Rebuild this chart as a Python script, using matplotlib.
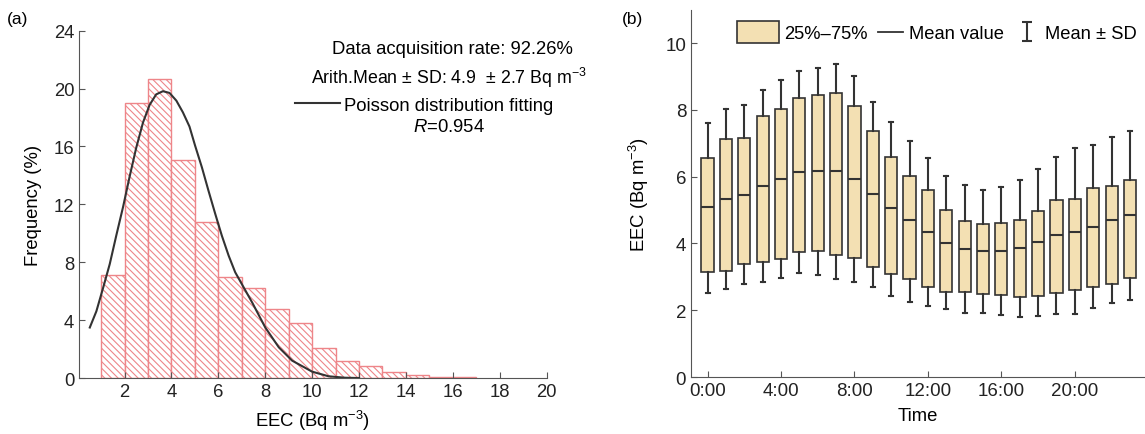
import matplotlib
matplotlib.use('Agg')
import matplotlib.pyplot as plt
import numpy as np
from matplotlib.patches import Rectangle, Patch
from matplotlib.lines import Line2D
from matplotlib.legend_handler import HandlerPatch

plt.rcParams.update({'font.family': 'Liberation Sans', 'mathtext.fontset': 'custom',
                     'mathtext.rm': 'Liberation Sans', 'mathtext.it': 'Liberation Sans:italic',
                     'mathtext.default': 'regular', 'hatch.linewidth': 0.8})

# (a) histogram of EEC, 1 Bq/m3 bins
bin_left = [1, 2, 3, 4, 5, 6, 7, 8, 9, 10, 11, 12, 13, 14, 15, 16]
freq = [7.1, 19.0, 20.65, 15.1, 10.8, 7.0, 6.2, 4.8, 3.8, 2.05, 1.2, 0.83, 0.42, 0.23, 0.1, 0.05]
# fitted curve
fit_x = [0.52, 0.8, 1.09, 1.37, 1.65, 1.94, 2.22, 2.5, 2.79, 3.07, 3.35, 3.64, 3.92, 4.21,
         4.49, 4.77, 5.01, 5.3, 5.58, 5.87, 6.15, 6.44, 6.72, 7.0, 7.45, 8.0, 8.58, 9.15,
         10.0, 10.7, 11.4, 12.0]
fit_y = [3.49, 4.61, 6.24, 7.87, 9.85, 11.83, 13.93, 15.91, 17.66, 18.87, 19.6, 19.82, 19.7,
         19.17, 18.36, 17.38, 16.06, 14.56, 12.95, 11.34, 9.84, 8.46, 7.31, 6.5, 5.2, 3.5,
         2.12, 1.2, 0.44, 0.12, 0.02, 0.0]

# (b) hourly EEC statistics
hours = list(range(24))
mean_val = [5.08, 5.32, 5.44, 5.72, 5.94, 6.14, 6.16, 6.16, 5.94, 5.47, 5.05, 4.69, 4.33, 4.02,
            3.84, 3.76, 3.78, 3.86, 4.04, 4.24, 4.35, 4.49, 4.69, 4.84]
q25 = [3.14, 3.17, 3.38, 3.44, 3.54, 3.74, 3.77, 3.65, 3.56, 3.29, 3.09, 2.94, 2.71, 2.56,
       2.56, 2.48, 2.45, 2.41, 2.43, 2.51, 2.61, 2.71, 2.79, 2.95]
q75 = [6.55, 7.12, 7.16, 7.82, 8.04, 8.34, 8.44, 8.51, 8.12, 7.38, 6.59, 6.02, 5.59, 5.0,
       4.67, 4.57, 4.61, 4.69, 4.96, 5.31, 5.33, 5.67, 5.71, 5.89]
sd_hi = [7.61, 8.02, 8.15, 8.58, 8.9, 9.16, 9.25, 9.38, 9.0, 8.24, 7.63, 7.08, 6.55, 6.02,
         5.76, 5.6, 5.7, 5.89, 6.24, 6.59, 6.87, 6.96, 7.18, 7.38]
sd_lo = [2.53, 2.65, 2.79, 2.84, 2.96, 3.12, 3.06, 2.92, 2.86, 2.69, 2.43, 2.26, 2.14, 2.04,
         1.92, 1.92, 1.86, 1.80, 1.82, 1.88, 1.88, 2.06, 2.22, 2.31]
time_ticks = [0, 4, 8, 12, 16, 20]
time_labels = ['0:00', '4:00', '8:00', '12:00', '16:00', '20:00']

fig = plt.figure(figsize=(11.45, 4.35), dpi=100)
ax1 = fig.add_axes([0.069, 0.1287, 0.4084, 0.7984])
ax2 = fig.add_axes([0.6035, 0.131, 0.3965, 0.8445])

red = '#EE8589'
dark = '#333333'
fs = 13.3

ax1.bar(bin_left, freq, width=1, align='edge', facecolor='white', edgecolor=red,
        hatch='\\\\\\\\\\', lw=1.0)
ax1.plot(fit_x, fit_y, color=dark, lw=1.5, label='Poisson distribution fitting')
ax1.set_xlim(0.06, 20)
ax1.set_ylim(0, 24)
ax1.set_xticks(range(2, 21, 2))
ax1.set_yticks(range(0, 25, 4))
ax1.set_xlabel('EEC (Bq m$^{-3}$)', fontsize=fs, labelpad=6)
ax1.set_ylabel('Frequency (%)', fontsize=fs, labelpad=8)
ax1.text(0.798, 0.95, 'Data acquisition rate: 92.26%', transform=ax1.transAxes,
         ha='center', va='center', fontsize=fs)
ax1.text(0.792, 0.867, 'Arith.Mean ± SD: 4.9  ± 2.7 Bq m$^{-3}$', transform=ax1.transAxes,
         ha='center', va='center', fontsize=12.8)
ax1.text(0.791, 0.723, '$\\mathit{R}$=0.954', transform=ax1.transAxes,
         ha='center', va='center', fontsize=fs)
ax1.legend(loc='center left', bbox_to_anchor=(0.462, 0.786), frameon=False, fontsize=fs,
           handlelength=2.45, handletextpad=0.2, borderpad=0, borderaxespad=0)

# (b) boxes: 25-75 %, mean line, mean +/- SD whiskers
stats = [dict(med=m, q1=a, q3=b, whislo=lo, whishi=hi, fliers=[])
         for m, a, b, lo, hi in zip(mean_val, q25, q75, sd_lo, sd_hi)]
ax2.bxp(stats, positions=hours, widths=0.66, capwidths=0.22, showfliers=False,
        patch_artist=True,
        boxprops=dict(facecolor='#F3E0B3', edgecolor=dark, lw=1.2),
        medianprops=dict(color=dark, lw=1.5),
        whiskerprops=dict(color=dark, lw=1.5),
        capprops=dict(color=dark, lw=1.5))
ax2.set_xlim(-0.9, 23.82)
ax2.set_ylim(0, 11)
ax2.set_xticks(time_ticks)
ax2.set_xticklabels(time_labels)
ax2.set_yticks(range(0, 11, 2))
ax2.set_xlabel('Time', fontsize=fs, labelpad=6)
ax2.set_ylabel('EEC (Bq m$^{-3}$)', fontsize=fs, labelpad=10)


def wide_box(legend, orig_handle, xdescent, ydescent, width, height, fontsize):
    ext = 0.9 * fontsize
    return Rectangle((-xdescent - ext, -ydescent - 0.25 * fontsize), width + ext, height + 0.5 * fontsize)


eb = ax2.errorbar([np.nan], [np.nan], yerr=[1], fmt='none', ecolor=dark, elinewidth=1.5,
                  capsize=3.5, capthick=1.5)
box_handle = Patch(facecolor='#F3E0B3', edgecolor=dark, lw=1.2)
line_handle = Line2D([], [], color=dark, lw=1.3)
ax2.legend([box_handle, line_handle, eb], ['25%–75%', 'Mean value', 'Mean ± SD'],
           handler_map={Patch: HandlerPatch(patch_func=wide_box)},
           loc='center left', bbox_to_anchor=(0.1366, 0.935), ncol=3, frameon=False,
           fontsize=13.2, handlelength=1.4, handletextpad=0.3, columnspacing=0.55,
           borderpad=0, borderaxespad=0)

for ax in (ax1, ax2):
    ax.spines['top'].set_visible(False)
    ax.spines['right'].set_visible(False)
    for s in ('left', 'bottom'):
        ax.spines[s].set_color('#555555')
    ax.tick_params(direction='in', length=4, color='#555555', labelcolor='#222222')
ax1.tick_params(labelsize=13.3)
ax2.tick_params(labelsize=13.5)

fig.text(0.006, 0.955, '(a)', fontsize=12.5, va='center')
fig.text(0.543, 0.955, '(b)', fontsize=12.5, va='center')

plt.savefig('out.png', dpi=100)
